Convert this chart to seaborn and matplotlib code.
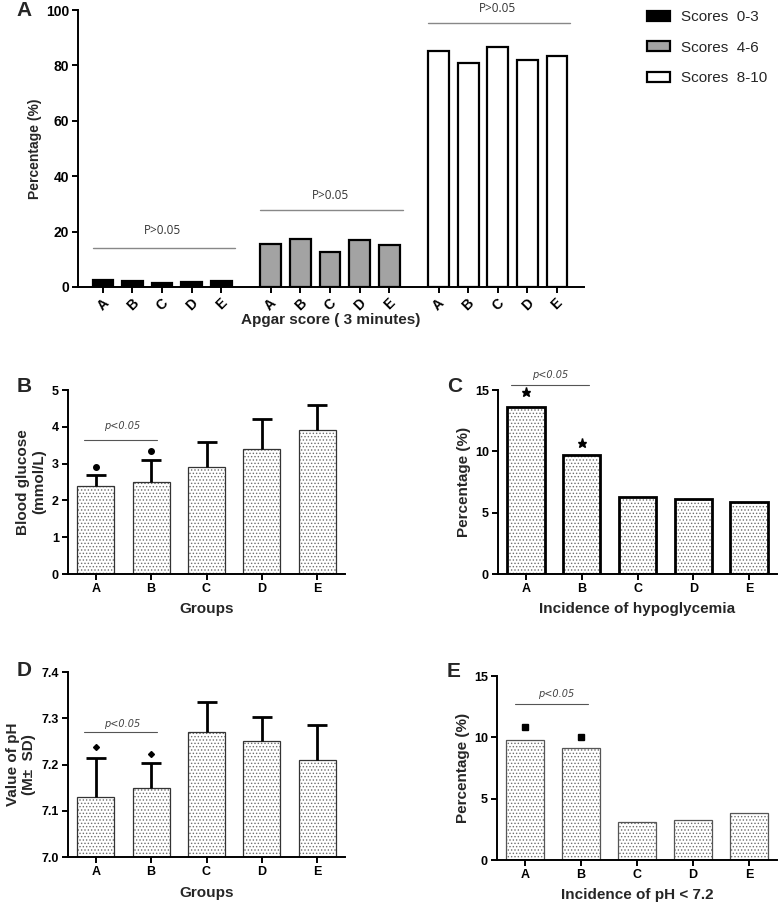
import numpy as np
import pandas as pd
import matplotlib
matplotlib.use("Agg")
import matplotlib.pyplot as plt
from matplotlib.patches import Patch
import seaborn as sns

# ---- data ----
groups = ["A", "B", "C", "D", "E"]

# A: Apgar score at 3 minutes, % per group
apgar_bands = ["0-3", "4-6", "8-10"]
apgar_0_3 = [2.6, 2.3, 1.4, 1.7, 2.0]
apgar_4_6 = [15.7, 17.3, 12.5, 17.0, 15.1]
apgar_8_10 = [85.2, 81.0, 86.5, 81.9, 83.4]
apgar_line_y = [14.1, 27.7, 95.4]
apgar_text_y = [20.5, 33.0, 100.6]
apgar_p = ["P>0.05", "P>0.05", "P>0.05"]

# B: blood glucose (mmol/L), mean and SD
glucose_mean = [2.4, 2.5, 2.9, 3.4, 3.9]
glucose_sd = [0.3, 0.6, 0.7, 0.8, 0.7]
glucose_mark = [2.92, 3.35]
glucose_line_y, glucose_text_y = 3.64, 4.02

# C: incidence of hypoglycemia (%)
hypo_pct = [13.6, 9.7, 6.3, 6.1, 5.9]
hypo_mark = [14.8, 10.7]
hypo_line_y, hypo_text_y = 15.4, 16.2

# D: pH, mean and SD
ph_mean = [7.13, 7.15, 7.27, 7.25, 7.21]
ph_sd = [0.084, 0.053, 0.065, 0.053, 0.075]
ph_mark = [7.238, 7.223]
ph_line_y, ph_text_y = 7.270, 7.288

# E: incidence of pH < 7.2 (%)
lowph_pct = [9.8, 9.1, 3.07, 3.26, 3.8]
lowph_mark = [10.85, 10.03]
lowph_line_y, lowph_text_y = 12.69, 13.5

band_colors = {"0-3": "black", "4-6": "#a3a3a3", "8-10": "white"}

sns.set_style("ticks")
plt.rcParams["font.family"] = ["Liberation Sans", "DejaVu Sans"]
plt.rcParams["hatch.linewidth"] = 0.6

W, H = 778, 905
fig = plt.figure(figsize=(W / 100, H / 100), dpi=100)


def px_axes(left, top, right, bottom):
    return fig.add_axes([left / W, 1 - bottom / H, (right - left) / W, (bottom - top) / H])


def style_axes(ax, ticksize=9):
    sns.despine(ax=ax)
    for s in ("left", "bottom"):
        ax.spines[s].set_linewidth(1.4)
        ax.spines[s].set_color("black")
    ax.tick_params(width=1.4, length=4, labelsize=ticksize, colors="black", pad=2.5)
    for lab in ax.get_xticklabels() + ax.get_yticklabels():
        lab.set_fontweight("bold")


def dotted_bars(ax, values, edge, lw):
    df = pd.DataFrame({"group": groups, "value": values})
    sns.barplot(data=df, x="group", y="value", color="white", hatch=".....",
                edgecolor="#6e6e6e", linewidth=0, width=0.67, errorbar=None, ax=ax)
    sns.barplot(data=df, x="group", y="value", color=edge, fill=False,
                linewidth=lw, width=0.67, errorbar=None, ax=ax)
    ax.set_xlim(-0.5, 4.5)


def upper_sd(ax, means, sds):
    _, caps, _ = ax.errorbar(range(len(means)), means, yerr=[np.zeros(len(sds)), sds],
                             fmt="none", ecolor="black", elinewidth=2.0,
                             capsize=7.5, capthick=2.0)
    caps[0].set_visible(False)


def p_bracket(ax, y_line, y_text, x0, x1, xt):
    ax.plot([x0, x1], [y_line, y_line], color="#555555", lw=0.8, clip_on=False)
    ax.text(xt, y_text, "p<0.05", ha="center", va="center", fontsize=7,
            style="italic", color="#444444", family=["DejaVu Sans"])


# ---- panel A ----
axA = px_axes(78, 10, 584, 287)
gap = 0.67
apgar = pd.DataFrame({
    "group": groups * 3,
    "band": np.repeat(apgar_bands, len(groups)),
    "value": apgar_0_3 + apgar_4_6 + apgar_8_10,
})
apgar["pos"] = [b * (len(groups) + gap) + i for b in range(3) for i in range(len(groups))]
sns.barplot(data=apgar, x="pos", y="value", hue="band", palette=band_colors,
            native_scale=True, dodge=False, width=0.7, edgecolor="black",
            linewidth=1.6, errorbar=None, legend=False, ax=axA)
axA.set_xlim(-0.84, 16.25)
axA.set_ylim(0, 100)
axA.set_yticks([0, 20, 40, 60, 80, 100])
axA.set_xticks(apgar["pos"])
axA.set_xticklabels(apgar["group"], rotation=45, ha="center", va="top")
style_axes(axA, ticksize=10)
for b in range(3):
    start = b * (len(groups) + gap)
    axA.plot([start - 0.35, start + 4.45], [apgar_line_y[b]] * 2, color="#888888",
             lw=1.0, clip_on=False)
    axA.text(start + 2, apgar_text_y[b], apgar_p[b], ha="center", va="center",
             fontsize=8.5, color="#333333", family=["Open Sans"])
axA.set_xlabel("Apgar score ( 3 minutes)", fontsize=11, fontweight="bold", labelpad=0)
axA.set_ylabel("Percentage (%)", fontsize=10, fontweight="bold", labelpad=2.5)

handles = [Patch(facecolor=band_colors[b], edgecolor="black", linewidth=1.6) for b in apgar_bands]
fig.legend(handles, [f"Scores  {b}" for b in apgar_bands], loc="upper left",
           bbox_to_anchor=(647 / W, 1 - 10 / H), frameon=False, fontsize=11,
           borderaxespad=0, borderpad=0,
           handlelength=1.5, handleheight=0.65, labelspacing=1.08, handletextpad=0.75)

# ---- panel B ----
axB = px_axes(68, 390, 345, 574)
dotted_bars(axB, glucose_mean, "#333333", 0.9)
upper_sd(axB, glucose_mean, glucose_sd)
axB.plot(range(len(glucose_mark)), glucose_mark, "o", color="black", ms=4)
axB.set_ylim(0, 5)
p_bracket(axB, glucose_line_y, glucose_text_y, -0.22, 1.10, 0.47)
style_axes(axB)
axB.set_xlabel("Groups", fontsize=11, fontweight="bold", labelpad=5)
axB.set_ylabel("Blood glucose\n(mmol/L)", fontsize=11, fontweight="bold", labelpad=4)

# ---- panel C ----
axC = px_axes(498, 390, 777, 574)
dotted_bars(axC, hypo_pct, "black", 2.0)
axC.plot(range(len(hypo_mark)), hypo_mark, "*", color="black", ms=6.5, clip_on=False)
axC.set_ylim(0, 15)
axC.set_yticks([0, 5, 10, 15])
p_bracket(axC, hypo_line_y, hypo_text_y, -0.27, 1.13, 0.43)
style_axes(axC)
axC.set_xlabel("Incidence of hypoglycemia", fontsize=11, fontweight="bold", labelpad=5)
axC.set_ylabel("Percentage (%)", fontsize=11, fontweight="bold", labelpad=3)

# ---- panel D ----
axD = px_axes(68, 672, 345, 857)
dotted_bars(axD, ph_mean, "#333333", 0.9)
axD.set_ylim(7.0, 7.4)
upper_sd(axD, ph_mean, ph_sd)
axD.plot(range(len(ph_mark)), ph_mark, "D", color="black", ms=3)
axD.set_yticks([7.0, 7.1, 7.2, 7.3, 7.4])
axD.set_yticklabels(["7.0", "7.1", "7.2", "7.3", "7.4"])
p_bracket(axD, ph_line_y, ph_text_y, -0.22, 1.10, 0.47)
style_axes(axD)
axD.set_xlabel("Groups", fontsize=11, fontweight="bold", labelpad=6)
axD.set_ylabel("Value of pH\n(M\u00b1  SD)", fontsize=11, fontweight="bold", labelpad=4)

# ---- panel E ----
axE = px_axes(497, 676, 777, 860)
dotted_bars(axE, lowph_pct, "#555555", 0.9)
axE.plot(range(len(lowph_mark)), lowph_mark, "s", color="black", ms=4.5)
axE.set_ylim(0, 15)
axE.set_yticks([0, 5, 10, 15])
p_bracket(axE, lowph_line_y, lowph_text_y, -0.18, 1.13, 0.56)
style_axes(axE)
axE.set_xlabel("Incidence of pH < 7.2", fontsize=11, fontweight="bold", labelpad=5)
axE.set_ylabel("Percentage (%)", fontsize=11, fontweight="bold", labelpad=3)

# panel letters
for letter, x, y in [("A", 24, 11), ("B", 24, 387), ("C", 455, 387), ("D", 24, 670), ("E", 454, 671)]:
    fig.text(x / W, 1 - y / H, letter, fontsize=15, fontweight="bold", ha="center", va="center")

fig.savefig("out.png", dpi=100)
